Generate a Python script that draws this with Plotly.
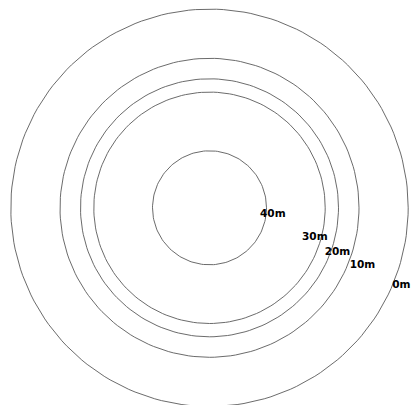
import numpy as np
import plotly.graph_objects as go

# depth rings: label and ring radius
depth_labels = ["0m", "10m", "20m", "30m", "40m"]
ring_radius = [198.7, 149.5, 129.0, 115.7, 57.0]

# where each label sits: angle (deg, counter-clockwise from east) and distance from centre
label_angle = [-21.9, -20.5, -19.2, -15.9, -5.5]
label_dist = [206.8, 163.3, 135.5, 109.5, 63.6]

W, H = 412, 405
cx, cy = 209.5, 207.8  # centre of rings, in pixels from top-left

fig = go.Figure()
theta = np.linspace(0, 2 * np.pi, 181)
for r in ring_radius:
    fig.add_trace(go.Scatter(
        x=r * np.cos(theta), y=r * np.sin(theta),
        mode="lines", line=dict(color="#5a5a5a", width=0.9),
        hoverinfo="skip", showlegend=False,
    ))

a = np.radians(label_angle)
d = np.array(label_dist)
fig.add_trace(go.Scatter(
    x=d * np.cos(a), y=d * np.sin(a),
    mode="text", text=[f"<b>{t}</b>" for t in depth_labels],
    textfont=dict(family="DejaVu Sans", size=10.5, color="black"),
    textposition="middle center",
    hoverinfo="skip", showlegend=False,
))

fig.update_layout(
    width=W, height=H,
    margin=dict(l=0, r=0, t=0, b=0),
    paper_bgcolor="white", plot_bgcolor="white",
    xaxis=dict(range=[-cx, W - cx], visible=False, fixedrange=True),
    yaxis=dict(range=[-(H - cy), cy], visible=False, fixedrange=True),
)

fig.write_html("out.html")
